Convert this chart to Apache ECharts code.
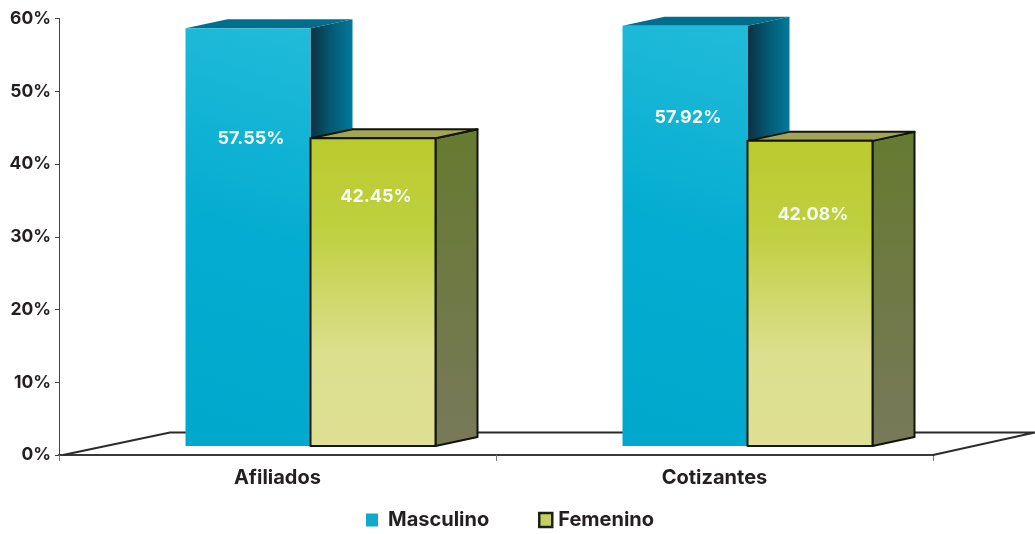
<!DOCTYPE html>
<html>
<head>
<meta charset="utf-8">
<title>Afiliados y Cotizantes</title>
<script src="https://cdn.jsdelivr.net/npm/echarts@6/dist/echarts.min.js"></script>
<style>
    html, body { margin: 0; padding: 0; background: #fff; }
    #chartmain { width: 1035px; height: 534px; }
</style>
</head>
<body>
<div id="chartmain"></div>
<script>
    // 数据
    const categories = ['Afiliados', 'Cotizantes'];
    const masculino = [57.55, 57.92];
    const femenino = [42.45, 42.08];
    const yTicks = [0, 10, 20, 30, 40, 50, 60];

    const FONT = 'Inter, "Open Sans", sans-serif';

    // 3D 柱子的外观
    const barWidth = 125;
    const depthX = 42;
    const depthY = 9;
    const baseLift = 9;
    const groupShift = -92;
    // 数值标签离柱顶的距离（每个分类一个）
    const labelDropMasculino = [110, 92];
    const labelDropFemenino = [58, 74];

    const blueStyle = {
        front: { type: 'linear', x: 0, y: 1, x2: 1, y2: 0, colorStops: [
            { offset: 0, color: '#00a8cc' }, { offset: 0.5, color: '#03acd0' }, { offset: 1, color: '#22bbda' }] },
        side: { type: 'linear', x: 0, y: 0, x2: 1, y2: 0, colorStops: [
            { offset: 0, color: '#0c3042' }, { offset: 0.5, color: '#045a74' }, { offset: 1, color: '#007a9c' }] },
        top: '#006f8e',
        border: null
    };
    const greenStyle = {
        front: { type: 'linear', x: 0, y: 0, x2: 0, y2: 1, colorStops: [
            { offset: 0, color: '#bacb2e' }, { offset: 0.3, color: '#bfd040' },
            { offset: 0.7, color: '#dcdf8e' }, { offset: 1, color: '#dee092' }] },
        side: { type: 'linear', x: 0, y: 0, x2: 0, y2: 1, colorStops: [
            { offset: 0, color: '#667a30' }, { offset: 1, color: '#78795a' }] },
        top: '#a3a556',
        border: '#10140a'
    };

    function renderBar(look, seriesOffset, labelDrop) {
        return function (params, api) {
            const cat = api.value(0);
            const base = api.coord([cat, 0]);
            const top = api.coord([cat, api.value(1)]);
            const x0 = base[0] + groupShift + seriesOffset;
            const x1 = x0 + barWidth;
            const y0 = base[1] - baseLift;
            const y1 = top[1] - baseLift + 1;
            const line = look.border
                ? { stroke: look.border, lineWidth: 2, lineJoin: 'round' }
                : { stroke: null };
            return {
                type: 'group',
                children: [
                    {
                        type: 'polygon',
                        shape: { points: [[x1, y0], [x1 + depthX, y0 - depthY], [x1 + depthX, y1 - depthY], [x1, y1]] },
                        style: Object.assign({ fill: look.side }, line)
                    },
                    {
                        type: 'polygon',
                        shape: { points: [[x0, y1], [x0 + depthX, y1 - depthY], [x1 + depthX, y1 - depthY], [x1, y1]] },
                        style: Object.assign({ fill: look.top }, line)
                    },
                    {
                        type: 'rect',
                        shape: { x: x0, y: y1, width: barWidth, height: y0 - y1 },
                        style: Object.assign({ fill: look.front }, line)
                    },
                    {
                        type: 'text',
                        style: {
                            x: x0 + barWidth / 2 + 3,
                            y: y1 + labelDrop[cat],
                            text: api.value(1).toFixed(2) + '%',
                            fill: '#f4fbf4',
                            font: 'bold 18px ' + FONT,
                            align: 'center',
                            verticalAlign: 'middle'
                        }
                    }
                ]
            };
        };
    }

    // 地板：从坐标系推出四个角
    function renderFloor(params, api) {
        const cs = params.coordSys;
        const bottom = cs.y + cs.height;
        const points = [
            [cs.x + 4, bottom],
            [cs.x + 111, bottom - 22.5],
            [cs.x + cs.width + 102, bottom - 22.5],
            [cs.x + cs.width, bottom]
        ];
        return {
            type: 'polyline',
            shape: { points: points },
            style: { fill: null, stroke: '#2b2b2b', lineWidth: 2 }
        };
    }

    const chart = echarts.init(document.getElementById('chartmain'));

    const legendText = { color: '#231f20', fontSize: 20, fontWeight: 'bold', fontFamily: FONT };

    const option = {
        animation: false,
        backgroundColor: '#fff',
        textStyle: { fontFamily: FONT },
        grid: { left: 59, right: 102, top: 18.5, bottom: 79 },
        legend: [
            {
                top: 510,
                left: 366,
                padding: 0,
                itemWidth: 12,
                itemHeight: 13,
                icon: 'rect',
                textStyle: Object.assign({ padding: [0, 0, 0, 5] }, legendText),
                data: [{ name: 'Masculino', itemStyle: { color: '#0fa9cb', borderWidth: 0 } }]
            },
            {
                top: 510,
                left: 538,
                padding: 0,
                itemWidth: 13,
                itemHeight: 14,
                icon: 'rect',
                textStyle: Object.assign({ padding: [0, 0, 0, 1] }, legendText),
                data: [{ name: 'Femenino', itemStyle: { color: '#c4d060', borderColor: '#1c2010', borderWidth: 2.5 } }]
            }
        ],
        xAxis: {
            type: 'category',
            data: categories,
            axisLine: { show: true, lineStyle: { color: '#3a3a3a', width: 2 } },
            axisTick: { show: true, length: 6, lineStyle: { color: '#777', width: 1 } },
            axisLabel: { color: '#231f20', fontSize: 20, fontWeight: 'bold', fontFamily: FONT, margin: 13 }
        },
        yAxis: {
            type: 'value',
            min: yTicks[0],
            max: yTicks[yTicks.length - 1],
            interval: 10,
            axisLine: { show: true, lineStyle: { color: '#444', width: 1 } },
            axisTick: { show: true, length: 4, lineStyle: { color: '#444', width: 1 } },
            splitLine: { show: false },
            axisLabel: {
                color: '#231f20',
                fontSize: 17.5,
                fontWeight: 'bold',
                fontFamily: FONT,
                margin: 8,
                formatter: '{value}%'
            }
        },
        series: [
            {
                type: 'custom',
                name: 'floor',
                z: 1,
                silent: true,
                renderItem: renderFloor,
                data: [[0, 0]],
                encode: { x: 0, y: 1 }
            },
            {
                type: 'custom',
                name: 'Masculino',
                z: 2,
                renderItem: renderBar(blueStyle, 0, labelDropMasculino),
                data: masculino.map(function (v, i) { return [i, v]; }),
                encode: { x: 0, y: 1 }
            },
            {
                type: 'custom',
                name: 'Femenino',
                z: 3,
                renderItem: renderBar(greenStyle, barWidth, labelDropFemenino),
                data: femenino.map(function (v, i) { return [i, v]; }),
                encode: { x: 0, y: 1 }
            }
        ]
    };

    chart.setOption(option);
</script>
</body>
</html>
